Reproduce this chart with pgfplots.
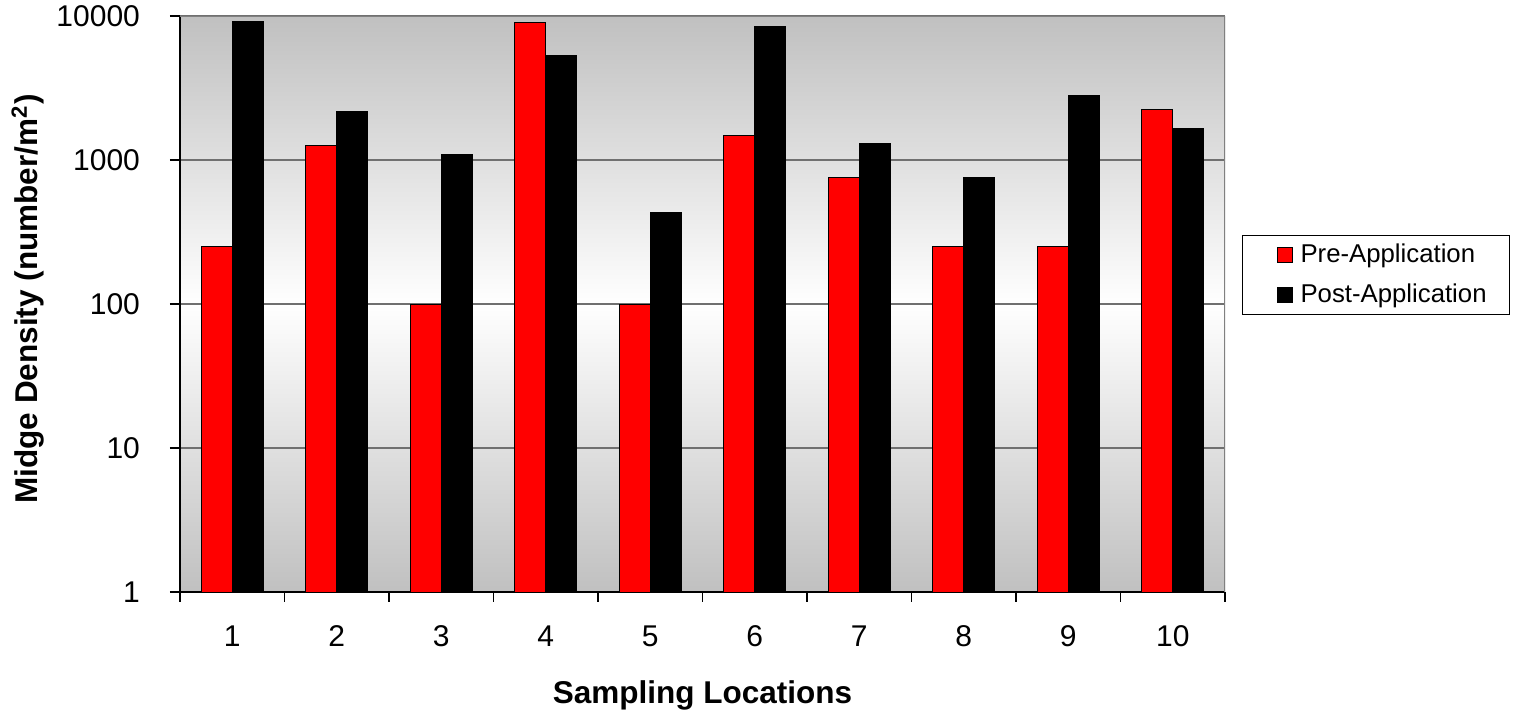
\documentclass[border=0pt]{standalone}
\usepackage{pgfplots}
\pgfplotsset{compat=1.18}
\usepackage{fontspec}
\setmainfont{Liberation Sans}
\definecolor{bggray}{HTML}{C0C0C0}
\definecolor{gridgray}{HTML}{707070}
\definecolor{bordergray}{HTML}{808080}
\definecolor{barred}{HTML}{FF0000}
\begin{document}
\begin{tikzpicture}
\useasboundingbox (-72pt,-47.2pt) rectangle (533.2pt,236.8pt);
\begin{axis}[
  at={(0,0)}, anchor=south west,
  scale only axis, width=418pt, height=230.4pt,
  ymode=log, log origin=infty,
  ymin=1, ymax=10000,
  xmin=0.5, xmax=10.5,
  ybar=0pt, bar width=12.4pt,
  axis x line*=bottom, axis y line*=left,
  axis line style={black, line width=0.5pt},
  axis background/.style={shade, top color=bggray, bottom color=bggray, middle color=white},
  xtick={1,2,3,4,5,6,7,8,9,10},
  xticklabels={1,2,3,4,5,6,7,8,9,10},
  major x tick style={draw=none},
  minor xtick={0.5,1.5,2.5,3.5,4.5,5.5,6.5,7.5,8.5,9.5,10.5},
  ytick={1,10,100,1000,10000},
  yticklabels={1,10,100,1000,10000},
  yminorticks=false,
  tick align=outside,
  major tick length=4pt, minor tick length=4pt,
  tick style={black, line width=0.5pt},
  ymajorgrids,
  major grid style={gridgray, line width=0.5pt},
  tick label style={font=\fontsize{12}{14}\selectfont},
  yticklabel style={anchor=east, xshift=-8.5pt},
  xticklabel style={anchor=north, yshift=-6pt},
  xlabel={Sampling Locations},
  ylabel={Midge Density (number/m\textsuperscript{2})},
  label style={font=\fontsize{12.6}{15}\selectfont\bfseries},
  xlabel style={at={(axis description cs:0.5,-0.1788)}, anchor=center},
  ylabel style={at={(axis description cs:-0.1455,0.5087)}, anchor=center, rotate=0},
  legend style={at={(rel axis cs:1.0163,0.5503)}, anchor=west, draw=black, line width=0.4pt,
    font=\fontsize{10.3}{12}\selectfont, row sep=3pt, inner xsep=7pt, inner ysep=1.5pt,
    cells={anchor=west}},
  legend image code/.code={\path[draw=none, fill=none] (0pt,0pt) -- (14.2pt,0pt);
    \draw[#1, draw=black, line width=0.4pt] (7pt,-3pt) rectangle (13pt,3pt);},
]
\addplot[fill=barred, draw=black, line width=0.4pt] coordinates {
  (1,250) (2,1260) (3,100) (4,9050) (5,100) (6,1475) (7,760) (8,250) (9,250) (10,2230)};
\addplot[fill=black, draw=black, line width=0.4pt] coordinates {
  (1,9100) (2,2180) (3,1085) (4,5300) (5,435) (6,8500) (7,1310) (8,755) (9,2800) (10,1645)};
\legend{Pre-Application, Post-Application}
\draw[bordergray, line width=0.6pt] (rel axis cs:0,1) -- (rel axis cs:1,1) -- (rel axis cs:1,0);
\end{axis}
\end{tikzpicture}
\end{document}
